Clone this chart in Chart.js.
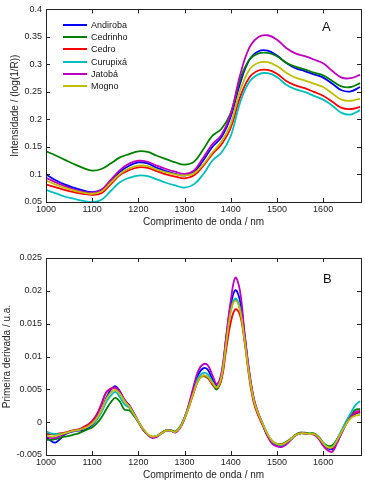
<!DOCTYPE html>
<html>
<head>
<meta charset="utf-8">
<script src="https://cdn.jsdelivr.net/npm/chart.js@4.4.0/dist/chart.umd.min.js"></script>
<style>
  body { margin: 0; background: #fff; }
  #wrap { position: relative; width: 365px; height: 483px; font-family: "Liberation Sans", Arial, sans-serif; color: #111; }
  .box { position: absolute; left: 0; width: 365px; }
  #boxA { top: 0; height: 240px; }
  #boxB { top: 240px; height: 243px; }
  .tag { position: absolute; font-size: 13px; line-height: 13px; }
  #legend { position: absolute; left: 63px; top: 19px; font-size: 9px; }
  .item { height: 12.2px; display: flex; align-items: center; white-space: nowrap; }
  .swatch { width: 24px; height: 2px; margin-right: 4px; }
</style>
</head>
<body>
<div id="wrap">
  <div class="box" id="boxA"><canvas id="chartA" width="365" height="240"></canvas></div>
  <div class="box" id="boxB"><canvas id="chartB" width="365" height="243"></canvas></div>
  <div id="legend"></div>
  <div class="tag" style="left:322px;top:20px">A</div>
  <div class="tag" style="left:323px;top:272px">B</div>
</div>
<script>
// series names and colours (MATLAB default order)
var seriesNames = ['Andiroba', 'Cedrinho', 'Cedro', 'Curupixá', 'Jatobá', 'Mogno'];
var seriesColors = ['#0000ff', '#008000', '#ff0000', '#00bfbf', '#bf00bf', '#bfbf00'];

// panel A - spectra, every 20 nm
var wavelengthsA = [1000,1020,1040,1060,1080,1100,1120,1140,1160,1180,1200,1220,1240,1260,1280,1300,1320,1340,1360,1380,1400,1420,1440,1460,1480,1500,1520,1540,1560,1580,1600,1620,1640,1660,1680];
var andirobaA = [0.100,0.090,0.082,0.076,0.071,0.068,0.072,0.088,0.105,0.116,0.122,0.120,0.112,0.106,0.101,0.098,0.104,0.125,0.150,0.168,0.205,0.265,0.308,0.324,0.325,0.316,0.303,0.293,0.288,0.282,0.276,0.265,0.253,0.251,0.259];
var cedrinhoA = [0.142,0.135,0.127,0.119,0.112,0.107,0.110,0.120,0.131,0.137,0.142,0.141,0.134,0.128,0.122,0.118,0.123,0.145,0.170,0.183,0.212,0.272,0.308,0.320,0.321,0.315,0.303,0.296,0.291,0.285,0.280,0.270,0.260,0.259,0.266];
var cedroA = [0.082,0.077,0.072,0.068,0.065,0.063,0.066,0.082,0.099,0.108,0.113,0.112,0.106,0.100,0.096,0.093,0.098,0.115,0.137,0.155,0.185,0.240,0.276,0.289,0.290,0.283,0.270,0.262,0.257,0.250,0.243,0.232,0.221,0.219,0.223];
var curupixaA = [0.072,0.066,0.060,0.056,0.052,0.050,0.054,0.070,0.086,0.094,0.098,0.097,0.091,0.085,0.080,0.076,0.082,0.100,0.125,0.140,0.170,0.230,0.268,0.282,0.284,0.277,0.263,0.255,0.250,0.243,0.236,0.225,0.212,0.209,0.217];
var jatobaA = [0.094,0.086,0.079,0.073,0.069,0.067,0.072,0.090,0.108,0.120,0.125,0.123,0.116,0.110,0.105,0.101,0.107,0.130,0.155,0.172,0.210,0.280,0.330,0.350,0.353,0.345,0.330,0.320,0.315,0.309,0.302,0.288,0.276,0.275,0.281];
var mognoA = [0.089,0.082,0.076,0.071,0.067,0.065,0.069,0.085,0.101,0.111,0.116,0.115,0.109,0.104,0.100,0.098,0.102,0.118,0.140,0.160,0.192,0.252,0.290,0.303,0.304,0.297,0.285,0.276,0.271,0.265,0.259,0.247,0.236,0.234,0.238];

// panel B - first derivative, every 10 nm
var wavelengthsB = [1000,1010,1020,1030,1040,1050,1060,1070,1080,1090,1100,1110,1120,1130,1140,1150,1160,1170,1180,1190,1200,1210,1220,1230,1240,1250,1260,1270,1280,1290,1300,1310,1320,1330,1340,1350,1360,1370,1380,1390,1400,1410,1420,1430,1440,1450,1460,1470,1480,1490,1500,1510,1520,1530,1540,1550,1560,1570,1580,1590,1600,1610,1620,1630,1640,1650,1660,1670,1680];
var andirobaB = [-0.0022,-0.0028,-0.0031,-0.0026,-0.0019,-0.0016,-0.0014,-0.0013,-0.0012,-0.0009,
  -0.0004,0.0004,0.0017,0.0036,0.0049,0.0055,0.0047,0.0034,0.0026,0.0014,
  0.0001,-0.0011,-0.0019,-0.0023,-0.0022,-0.0017,-0.0013,-0.0013,-0.0015,-0.0008,
  0.0007,0.0028,0.0052,0.0073,0.0082,0.0080,0.0066,0.0055,0.0072,0.0128,
  0.0178,0.0201,0.0185,0.0133,0.0075,0.0034,0.0012,-0.0005,-0.0021,-0.0032,
  -0.0036,-0.0037,-0.0033,-0.0027,-0.0020,-0.0017,-0.0017,-0.0018,-0.0018,-0.0024,
  -0.0034,-0.0040,-0.0041,-0.0030,-0.0016,-0.0002,0.0008,0.0013,0.0015];
var cedrinhoB = [-0.0027,-0.0027,-0.0026,-0.0024,-0.0022,-0.0021,-0.0019,-0.0017,-0.0014,-0.0011,
  -0.0008,-0.0002,0.0007,0.0019,0.0030,0.0037,0.0031,0.0019,0.0018,0.0010,
  0.0000,-0.0011,-0.0019,-0.0022,-0.0021,-0.0016,-0.0012,-0.0012,-0.0014,-0.0007,
  0.0007,0.0026,0.0047,0.0064,0.0070,0.0067,0.0058,0.0050,0.0068,0.0121,
  0.0170,0.0187,0.0172,0.0127,0.0073,0.0033,0.0012,-0.0004,-0.0019,-0.0029,
  -0.0033,-0.0033,-0.0030,-0.0025,-0.0019,-0.0016,-0.0016,-0.0017,-0.0017,-0.0022,
  -0.0031,-0.0036,-0.0035,-0.0026,-0.0013,0.0000,0.0010,0.0019,0.0020];
var cedroB = [-0.0018,-0.0018,-0.0018,-0.0017,-0.0016,-0.0014,-0.0012,-0.0011,-0.0008,-0.0004,
  0.0002,0.0012,0.0028,0.0045,0.0051,0.0052,0.0045,0.0033,0.0025,0.0013,
  0.0000,-0.0011,-0.0019,-0.0023,-0.0021,-0.0017,-0.0013,-0.0013,-0.0015,-0.0009,
  0.0005,0.0024,0.0045,0.0064,0.0071,0.0068,0.0058,0.0052,0.0065,0.0110,
  0.0152,0.0172,0.0163,0.0122,0.0068,0.0029,0.0009,-0.0006,-0.0021,-0.0030,
  -0.0034,-0.0034,-0.0031,-0.0026,-0.0020,-0.0017,-0.0017,-0.0018,-0.0018,-0.0023,
  -0.0033,-0.0039,-0.0039,-0.0029,-0.0015,-0.0002,0.0008,0.0014,0.0016];
var curupixaB = [-0.0014,-0.0017,-0.0018,-0.0018,-0.0017,-0.0015,-0.0013,-0.0012,-0.0010,-0.0007,
  -0.0003,0.0004,0.0015,0.0030,0.0040,0.0046,0.0038,0.0027,0.0022,0.0012,
  0.0000,-0.0011,-0.0019,-0.0023,-0.0021,-0.0017,-0.0013,-0.0013,-0.0015,-0.0008,
  0.0006,0.0026,0.0049,0.0068,0.0075,0.0073,0.0062,0.0053,0.0070,0.0122,
  0.0171,0.0188,0.0174,0.0129,0.0075,0.0035,0.0013,-0.0003,-0.0019,-0.0030,
  -0.0034,-0.0035,-0.0032,-0.0026,-0.0020,-0.0017,-0.0017,-0.0018,-0.0018,-0.0023,
  -0.0032,-0.0038,-0.0038,-0.0027,-0.0013,0.0002,0.0014,0.0026,0.0032];
var jatobaB = [-0.0022,-0.0024,-0.0024,-0.0021,-0.0018,-0.0015,-0.0013,-0.0012,-0.0010,-0.0006,
  0.0000,0.0010,0.0026,0.0045,0.0050,0.0053,0.0046,0.0034,0.0025,0.0014,
  0.0001,-0.0011,-0.0019,-0.0024,-0.0022,-0.0017,-0.0013,-0.0013,-0.0016,-0.0009,
  0.0006,0.0029,0.0056,0.0079,0.0088,0.0087,0.0072,0.0058,0.0076,0.0130,
  0.0185,0.0220,0.0200,0.0135,0.0078,0.0036,0.0013,-0.0005,-0.0022,-0.0033,
  -0.0037,-0.0038,-0.0034,-0.0027,-0.0020,-0.0017,-0.0017,-0.0018,-0.0019,-0.0025,
  -0.0036,-0.0043,-0.0045,-0.0032,-0.0017,-0.0003,0.0008,0.0016,0.0017];
var mognoB = [-0.0020,-0.0022,-0.0021,-0.0019,-0.0017,-0.0015,-0.0013,-0.0012,-0.0010,-0.0007,
  -0.0002,0.0006,0.0018,0.0034,0.0045,0.0049,0.0043,0.0032,0.0024,0.0013,
  0.0001,-0.0010,-0.0018,-0.0022,-0.0021,-0.0017,-0.0013,-0.0013,-0.0015,-0.0008,
  0.0006,0.0025,0.0046,0.0064,0.0071,0.0069,0.0060,0.0053,0.0070,0.0120,
  0.0168,0.0185,0.0170,0.0125,0.0072,0.0033,0.0012,-0.0004,-0.0019,-0.0029,
  -0.0033,-0.0034,-0.0031,-0.0026,-0.0020,-0.0017,-0.0017,-0.0018,-0.0018,-0.0023,
  -0.0032,-0.0038,-0.0038,-0.0028,-0.0015,-0.0003,0.0006,0.0010,0.0011];

var ticksA = [0.05,0.1,0.15,0.2,0.25,0.3,0.35,0.4];
var ticksB = [-0.005,0,0.005,0.01,0.015,0.02,0.025];
var ticksX = [1000,1100,1200,1300,1400,1500,1600];

var FONT = '"Liberation Sans", Arial, sans-serif';

// box round the plot with inward ticks on all four sides
var framePlugin = {
  id: 'frame',
  afterDraw: function(chart) {
    var ctx = chart.ctx, a = chart.chartArea, x = chart.scales.x, y = chart.scales.y;
    ctx.save();
    ctx.strokeStyle = '#222';
    ctx.lineWidth = 1;
    ctx.strokeRect(Math.round(a.left) + 0.5, Math.round(a.top) + 0.5, Math.round(a.width), Math.round(a.height));
    ctx.beginPath();
    x.ticks.forEach(function(t) {
      var px = Math.round(x.getPixelForValue(t.value)) + 0.5;
      ctx.moveTo(px, a.bottom); ctx.lineTo(px, a.bottom - 4);
      ctx.moveTo(px, a.top); ctx.lineTo(px, a.top + 4);
    });
    y.ticks.forEach(function(t) {
      var py = Math.round(y.getPixelForValue(t.value)) + 0.5;
      ctx.moveTo(a.left, py); ctx.lineTo(a.left + 4, py);
      ctx.moveTo(a.right, py); ctx.lineTo(a.right - 4, py);
    });
    ctx.stroke();
    ctx.restore();
  }
};

function makeDatasets(xs, list) {
  return list.map(function(vals, i) {
    return {
      label: seriesNames[i],
      data: vals.map(function(v, j) { return { x: xs[j], y: v }; }),
      borderColor: seriesColors[i],
      borderWidth: 1.8,
      pointRadius: 0,
      tension: 0.4,
      fill: false,
      order: list.length - i
    };
  });
}

function makeChart(id, xs, list, yMin, yMax, yTicks, yTitle, yTitlePad, pad) {
  return new Chart(document.getElementById(id), {
    type: 'line',
    data: { datasets: makeDatasets(xs, list) },
    plugins: [framePlugin],
    options: {
      responsive: false,
      animation: false,
      layout: { padding: pad },
      plugins: { legend: { display: false }, tooltip: { enabled: false } },
      scales: {
        x: {
          type: 'linear', min: 1000, max: 1682,
          grid: { display: false, drawTicks: false }, border: { display: false },
          afterBuildTicks: function(s) { s.ticks = ticksX.map(function(v) { return { value: v }; }); },
          afterFit: function(s) { s.height = 28; },
          ticks: { padding: 2, color: '#222', font: { family: FONT, size: 9 }, maxRotation: 0,
            callback: function(v) { return String(v); } },
          title: { display: true, text: 'Comprimento de onda / nm', color: '#222',
            font: { family: FONT, size: 10 }, padding: { top: 0, bottom: 2 } }
        },
        y: {
          min: yMin, max: yMax,
          grid: { display: false, drawTicks: false }, border: { display: false },
          afterBuildTicks: function(s) { s.ticks = yTicks.map(function(v) { return { value: v }; }); },
          afterFit: function(s) { s.width = 46; },
          ticks: { padding: 4, color: '#222', font: { family: FONT, size: 9 },
            callback: function(v) { return String(+v.toFixed(3)); } },
          title: { display: true, text: yTitle, color: '#222',
            font: { family: FONT, size: 10 }, padding: { top: yTitlePad, bottom: 0 } }
        }
      }
    }
  });
}

makeChart('chartA', wavelengthsA, [andirobaA, cedrinhoA, cedroA, curupixaA, jatobaA, mognoA],
  0.05, 0.4, ticksA, 'Intensidade / (log(1/R))', 9, { top: 6, right: 4, bottom: 10, left: 0 });
makeChart('chartB', wavelengthsB, [andirobaB, cedrinhoB, cedroB, curupixaB, jatobaB, mognoB],
  -0.005, 0.025, ticksB, 'Primeira derivada / u.a.', 1, { top: 18, right: 4, bottom: 0, left: 0 });

// legend of panel A
var legend = document.getElementById('legend');
seriesNames.forEach(function(name, i) {
  var row = document.createElement('div');
  row.className = 'item';
  var sw = document.createElement('span');
  sw.className = 'swatch';
  sw.style.background = seriesColors[i];
  var tx = document.createElement('span');
  tx.textContent = name;
  row.appendChild(sw);
  row.appendChild(tx);
  legend.appendChild(row);
});
</script>
</body>
</html>
